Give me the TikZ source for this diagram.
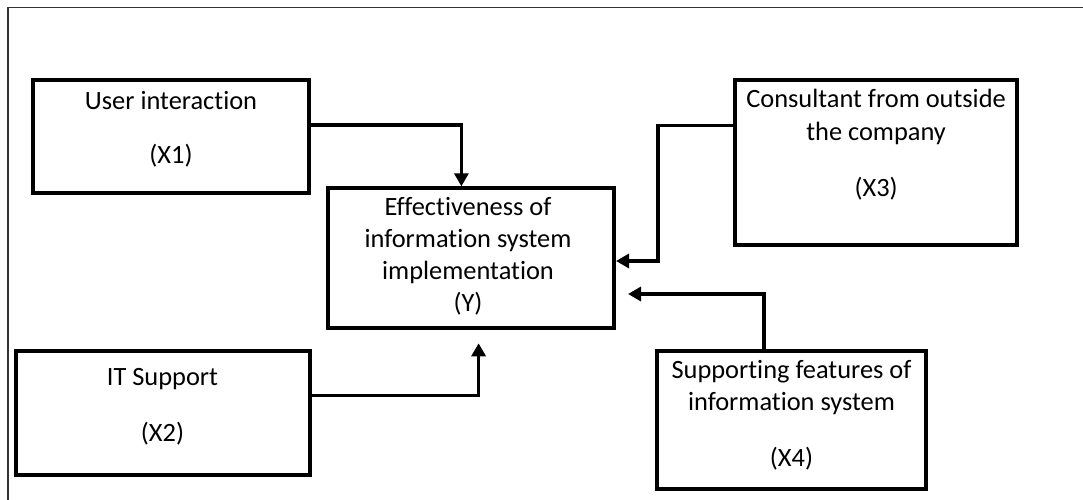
\documentclass[tikz,border=0pt]{standalone}
\usepackage{fontspec}
\setmainfont{Carlito}[Ligatures={NoCommon,NoContextual}]
\usetikzlibrary{arrows.meta}
\tikzset{
  box/.style={draw=black, line width=4pt, inner sep=0pt},
  txt/.style={anchor=base, inner sep=0pt, font=\fontsize{26.4}{32}\selectfont},
  conn/.style={draw=black, line width=3.5pt, -{Triangle[length=13pt,width=14pt]}},
  frame/.style={draw=black!80, line width=1.8pt}
}
\begin{document}
\begin{tikzpicture}[x=1pt,y=-1pt]
\useasboundingbox (0,0) rectangle (1083,500);
\clip (0,0) rectangle (1083,500);
\fill[white] (0,0) rectangle (1083,500);
% outer frame (open to right and bottom)
\draw[frame] (8.3,520) -- (8.3,7.5) -- (1100,7.5);

% boxes
\node[box, minimum width=276.5pt, minimum height=113.3pt] (x1) at (171,136.7) {};
\node[box, minimum width=294.5pt, minimum height=124pt] (x2) at (162.8,413) {};
\node[box, minimum width=286pt, minimum height=140pt] (y) at (471,258.3) {};
\node[box, minimum width=281.8pt, minimum height=165pt] (x3) at (876.1,162.5) {};
\node[box, minimum width=269.4pt, minimum height=138.6pt] (x4) at (791.7,420) {};

% texts
\node[txt] (x1a) at (171,110) {User interaction};
\node[txt] (x1b) at (171,163) {(X1)};
\node[txt] (x2a) at (162.5,385) {IT Support};
\node[txt] (x2b) at (162.5,441.5) {(X2)};
\node[txt] (ya) at (468,215) {Effectiveness of};
\node[txt] (yb) at (468,247) {information system};
\node[txt] (yc) at (468,279) {implementation};
\node[txt] (yd) at (468,311) {(Y)};
\node[txt] (x3a) at (876.1,108) {Consultant from outside};
\node[txt] (x3b) at (876.1,140.5) {the company};
\node[txt] (x3c) at (876.1,196) {(X3)};
\node[txt] (x4a) at (791.5,378.3) {Supporting features of};
\node[txt] (x4b) at (791.5,410) {information system};
\node[txt] (x4c) at (791.5,466) {(X4)};

% connector corner points
\coordinate (c1) at (461.4,125);
\coordinate (c2) at (478.6,395.7);
\coordinate (c3a) at (657.8,125.7);
\coordinate (c3b) at (657.8,261);
\coordinate (c4) at (763.8,294);

% connectors
\draw[conn] (x1.east |- c1) -- (c1) -- (c1 |- y.north);
\draw[conn, shorten >=13pt] (x2.east |- c2) -- (c2) -- (c2 |- y.south);
\draw[conn] (x3.west |- c3a) -- (c3a) -- (c3b) -- (y.east |- c3b);
\draw[conn, shorten >=12pt] (c4 |- x4.north) -- (c4) -- (y.east |- c4);
\end{tikzpicture}
\end{document}
